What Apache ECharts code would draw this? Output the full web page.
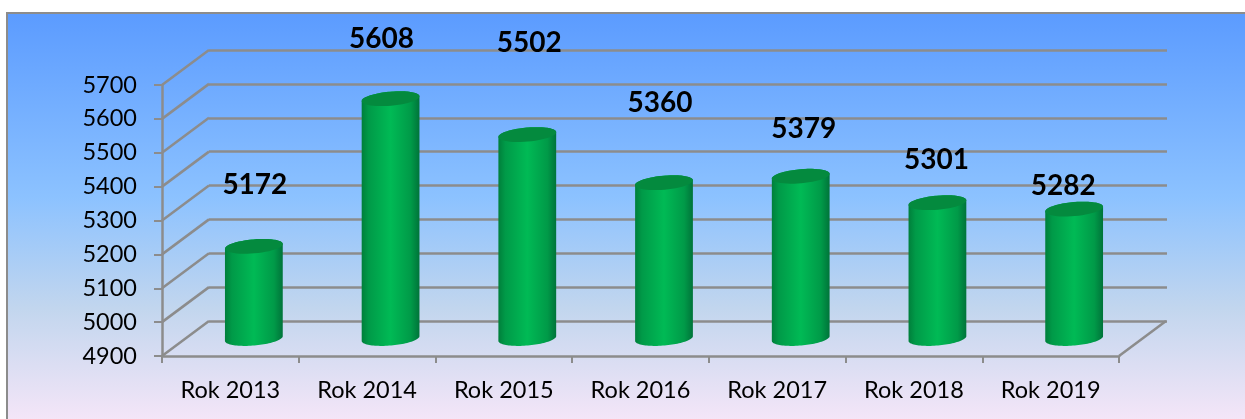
<!DOCTYPE html>
<html><head><meta charset="utf-8">
<style>html,body{margin:0;padding:0;background:#fff}#c{width:1245px;height:419px}</style>
<script src="https://cdn.jsdelivr.net/npm/echarts@6/dist/echarts.min.js"></script>
</head><body><div id="c"></div>
<script>
const categories = ['Rok 2013','Rok 2014','Rok 2015','Rok 2016','Rok 2017','Rok 2018','Rok 2019'];
const values = [5172,5608,5502,5360,5379,5301,5282];
const axisMin = 4900, axisMax = 5700, axisStep = 100;
const tickValues = [4900,5000,5100,5200,5300,5400,5500,5600,5700];
// pixel shift of each value label from the top of its cylinder (placement in the source)
const labelShiftX = [1,-9,2,-4,3,-1,-11];
const labelShiftY = [-61,-60,-92,-80,-47,-43,-23];

const DX = 47, DY = -35;            // depth of the pseudo-3D box
const GRAY = '#8c8c8c';
const FONT = 'Lato, Carlito, "Noto Sans", sans-serif';
const chart = echarts.init(document.getElementById('c'), null, {renderer:'canvas'});

function wall(params, api){
  const v = api.value(0);
  const p = api.coord([0, v]);
  const band = api.size([1, 0])[0];
  const x = p[0] - band/2;
  const shapes = [{type:'line', shape:{x1:x,y1:p[1],x2:x+DX,y2:p[1]+DY}, style:{stroke:GRAY,lineWidth:2.5}}];
  if (v === axisMin) {
    const xr = x + band*categories.length;
    shapes.push({type:'line', shape:{x1:xr,y1:p[1],x2:xr+DX,y2:p[1]+DY}, style:{stroke:GRAY,lineWidth:2.5}});
  }
  return {type:'group', children:shapes};
}
// tilted elliptical arc from angle a0 to a1 (radians) as a list of points
function arc(cx, cy, a0, a1){
  const rx = 29, ry = 7, t = -5*Math.PI/180, pts = [];
  for (let k = 0; k <= 48; k++){
    const a = a0 + (a1-a0)*k/48;
    const ex = rx*Math.cos(a), ey = ry*Math.sin(a);
    pts.push([cx + ex*Math.cos(t) - ey*Math.sin(t), cy + ex*Math.sin(t) + ey*Math.cos(t)]);
  }
  return pts;
}
function cyl(params, api){
  const i = api.value(0);
  const top = api.coord([i, api.value(1)]);
  const bot = api.coord([i, axisMin]);
  const cx = top[0] + DX/2, ty = top[1] + DY/2, by = bot[1] + DY/2;
  const body = arc(cx, ty, Math.PI, 2*Math.PI).concat(arc(cx, by, 0, Math.PI));
  const cap = arc(cx, ty, 0, 2*Math.PI);
  const grad = new echarts.graphic.LinearGradient(0,0,1,0,[
    {offset:0,color:'#007f3b'},{offset:0.12,color:'#009a48'},{offset:0.5,color:'#00ba55'},
    {offset:0.85,color:'#009a48'},{offset:1,color:'#00743a'}]);
  return {type:'group', children:[
    {type:'polygon', shape:{points:body}, style:{fill:grad}},
    {type:'polygon', shape:{points:cap}, style:{fill:'#048a3e'}},
    {type:'text', style:{text:String(api.value(1)), x:cx+labelShiftX[i], y:ty+labelShiftY[i], align:'center', verticalAlign:'middle',
      font:'bold 28px '+FONT, fill:'#000'}, z2:10}
  ]};
}
chart.setOption({
  animation:false,
  backgroundColor:'#fff',
  graphic:[{type:'rect', z:-10, silent:true, shape:{x:7,y:13,width:1240,height:410},
    style:{stroke:'#8c8c8c',lineWidth:2,fill:new echarts.graphic.LinearGradient(0,0,0,1,[
      {offset:0,color:'#5b9bff'},{offset:0.45,color:'#8cc2ff'},{offset:0.72,color:'#c2d6ee'},{offset:1,color:'#f6e6f8'}])}}],
  grid:[
    {left:162, top:85, width:957, height:271},
    {left:209, top:50, width:958, height:271}
  ],
  xAxis:[
    {type:'category', gridIndex:0, data:categories, boundaryGap:true,
     axisLine:{lineStyle:{color:GRAY,width:2.5}}, axisTick:{show:true,length:7,lineStyle:{color:GRAY,width:2}},
     axisLabel:{color:'#000',fontFamily:FONT,fontSize:23.5,margin:22,interval:0}},
    {type:'category', gridIndex:1, data:categories, show:false}
  ],
  yAxis:[
    {type:'value', gridIndex:0, min:axisMin, max:axisMax, interval:axisStep,
     axisLine:{show:true,lineStyle:{color:GRAY,width:2.5}}, axisTick:{show:true,length:8,lineStyle:{color:GRAY,width:2}},
     splitLine:{show:false},
     axisLabel:{color:'#000',fontFamily:FONT,fontSize:23.5,margin:25,padding:[3,0,0,0],formatter:v=>String(v)}},
    {type:'value', gridIndex:1, min:axisMin, max:axisMax, interval:axisStep,
     axisLine:{show:false}, axisTick:{show:false}, axisLabel:{show:false},
     splitLine:{show:true,lineStyle:{color:GRAY,width:2.5}}}
  ],
  series:[
    {type:'custom', xAxisIndex:0, yAxisIndex:0, renderItem:wall, data:tickValues.map(v=>[v]), encode:{y:0}, clip:false, silent:true, z:1},
    {type:'custom', xAxisIndex:0, yAxisIndex:0, renderItem:cyl, data:values.map((v,i)=>[i,v]), encode:{x:0,y:1}, clip:false, silent:true, z:3}
  ]
});
</script></body></html>
